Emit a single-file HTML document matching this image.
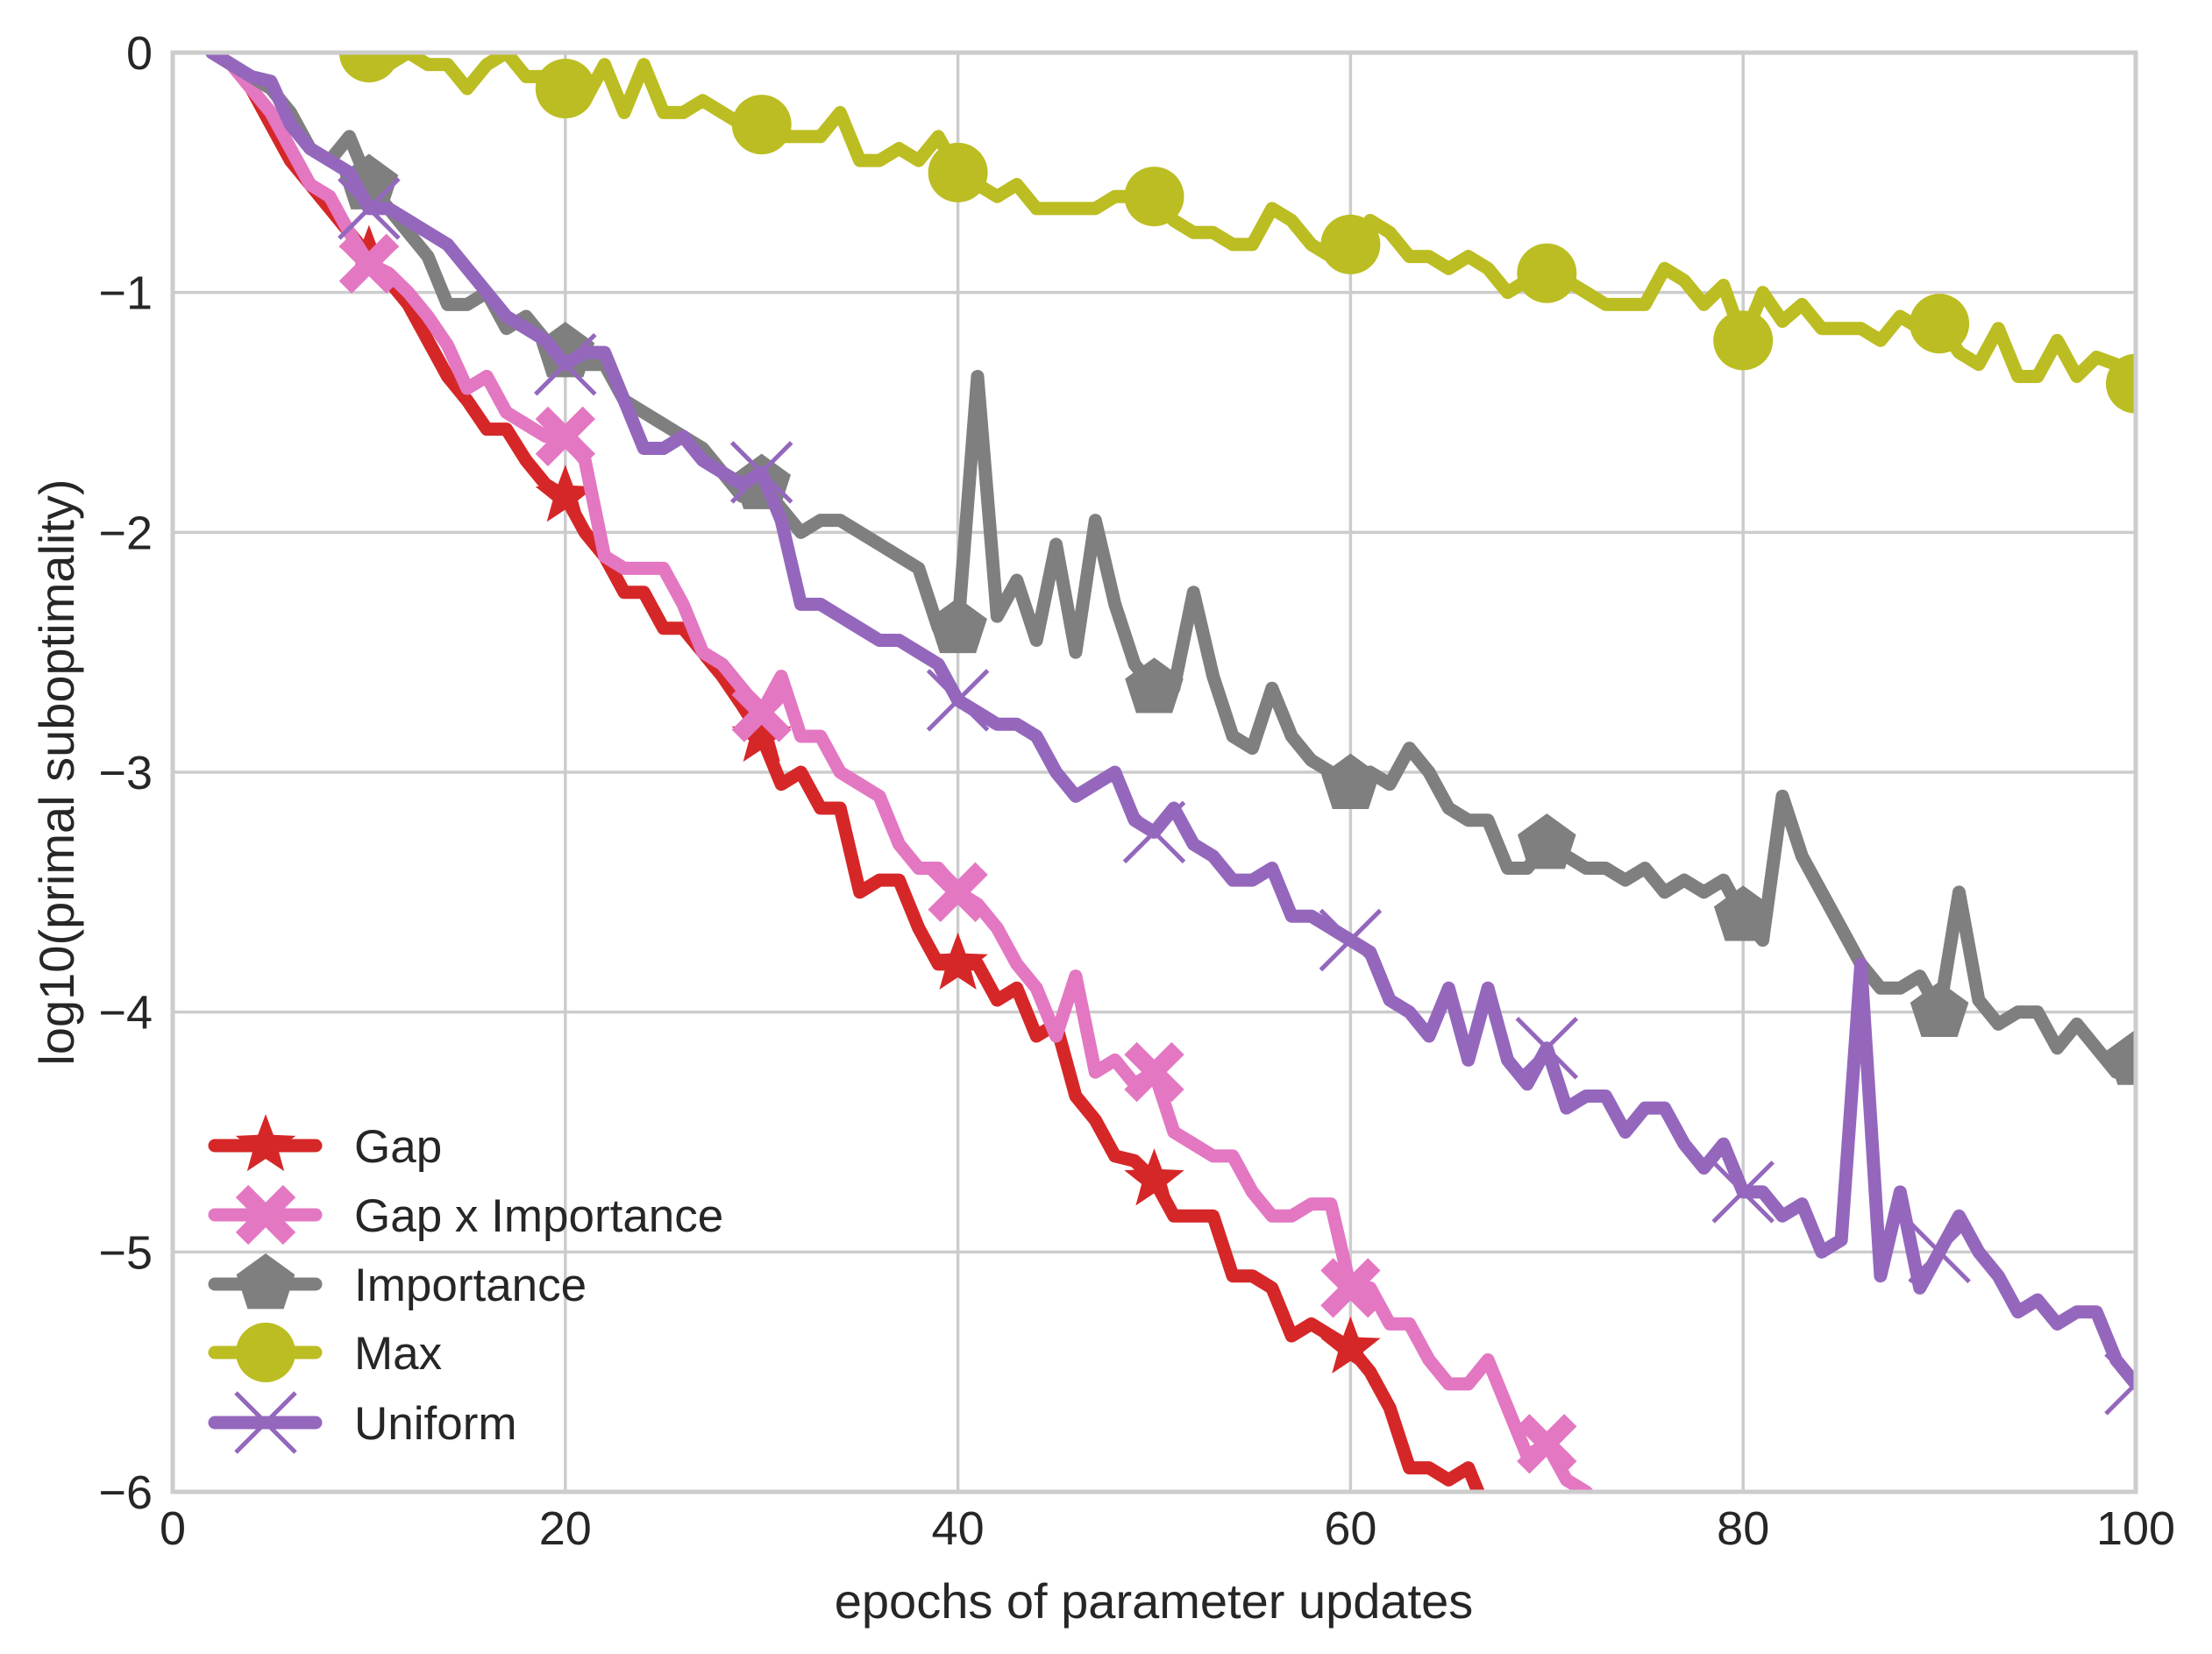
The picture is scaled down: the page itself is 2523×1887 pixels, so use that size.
<!DOCTYPE html>
<html><head><meta charset="utf-8"><style>
html,body{margin:0;padding:0;background:#fff}
svg{display:block}
text{font-family:"Liberation Sans",sans-serif;fill:#262626}
</style></head><body>
<svg id="chart" width="2523" height="1887" viewBox="0 0 2523 1887" xmlns="http://www.w3.org/2000/svg">
<defs><clipPath id="clip"><rect x="197" y="60" width="2239" height="1642"/></clipPath></defs>
<g id="grid"></g>
<g id="series" clip-path="url(#clip)"></g>
<rect x="197" y="60" width="2239" height="1642" fill="none" stroke="#cccccc" stroke-width="5"/>
<g id="ticks"></g>
<text x="1316" y="1846" font-size="56" text-anchor="middle">epochs of parameter updates</text>
<text transform="translate(84,881) rotate(-90)" font-size="56" text-anchor="middle">log10(primal suboptimality)</text>
<g id="legend"></g>
</svg>
<script>
const xTicks=[0,20,40,60,80,100];
const yTicks=[0,-1,-2,-3,-4,-5,-6];
const yTickLabels=["0","\u22121","\u22122","\u22123","\u22124","\u22125","\u22126"];
const gapX=[2,3,4,5,6,7,8,9,10,11,12,13,14,15,16,17,18,19,20,21,22,23,24,25,26,27,28,29,30,31,32,33,34,35,36,37,38,39,40,41,42,43,44,45,46,47,48,49,50,51,52,53,54,55,56,57,58,59,60,61,62,63,64,65,66,67,68];
const gapY=[0,-0.05,-0.15,-0.3,-0.45,-0.55,-0.65,-0.75,-0.85,-0.95,-1.05,-1.2,-1.35,-1.45,-1.57,-1.57,-1.7,-1.8,-1.85,-2.0,-2.1,-2.25,-2.25,-2.4,-2.4,-2.5,-2.6,-2.72,-2.85,-3.05,-3.0,-3.15,-3.15,-3.5,-3.45,-3.45,-3.65,-3.8,-3.8,-3.8,-3.95,-3.9,-4.1,-4.05,-4.35,-4.45,-4.6,-4.62,-4.7,-4.85,-4.85,-4.85,-5.1,-5.1,-5.15,-5.35,-5.3,-5.35,-5.4,-5.5,-5.65,-5.9,-5.9,-5.95,-5.9,-6.1,-6.2];
const gapIX=[2,3,4,5,6,7,8,9,10,11,12,13,14,15,16,17,18,19,20,21,22,23,24,25,26,27,28,29,30,31,32,33,34,35,36,37,38,39,40,41,42,43,44,45,46,47,48,49,50,51,52,53,54,55,56,57,58,59,60,61,62,63,64,65,66,67,68,69,70,71,72,73];
const gapIY=[0,-0.05,-0.15,-0.25,-0.4,-0.55,-0.6,-0.75,-0.88,-0.92,-1.0,-1.1,-1.22,-1.4,-1.35,-1.5,-1.55,-1.6,-1.6,-1.7,-2.1,-2.15,-2.15,-2.15,-2.3,-2.5,-2.55,-2.65,-2.75,-2.6,-2.85,-2.85,-3.0,-3.05,-3.1,-3.3,-3.4,-3.4,-3.5,-3.55,-3.65,-3.8,-3.9,-4.1,-3.85,-4.25,-4.2,-4.3,-4.25,-4.5,-4.55,-4.6,-4.6,-4.75,-4.85,-4.85,-4.8,-4.8,-5.15,-5.15,-5.3,-5.3,-5.45,-5.55,-5.55,-5.45,-5.65,-5.85,-5.8,-5.95,-6.0,-6.1];
const impX=[2,3,4,5,6,7,8,9,10,11,12,13,14,15,16,17,18,19,20,21,22,23,24,25,26,27,28,29,30,31,32,33,34,35,36,37,38,39,40,41,42,43,44,45,46,47,48,49,50,51,52,53,54,55,56,57,58,59,60,61,62,63,64,65,66,67,68,69,70,71,72,73,74,75,76,77,78,79,80,81,82,83,84,85,86,87,88,89,90,91,92,93,94,95,96,97,98,99,100];
const impY=[0,-0.05,-0.1,-0.15,-0.25,-0.4,-0.45,-0.35,-0.55,-0.65,-0.75,-0.85,-1.05,-1.05,-1.0,-1.15,-1.1,-1.2,-1.25,-1.3,-1.3,-1.45,-1.5,-1.55,-1.6,-1.65,-1.75,-1.85,-1.8,-1.9,-2.0,-1.95,-1.95,-2.0,-2.05,-2.1,-2.15,-2.4,-2.4,-1.35,-2.35,-2.2,-2.45,-2.05,-2.5,-1.95,-2.3,-2.55,-2.65,-2.65,-2.25,-2.6,-2.85,-2.9,-2.65,-2.85,-2.95,-3.0,-3.05,-3.0,-3.05,-2.9,-3.0,-3.15,-3.2,-3.2,-3.4,-3.4,-3.3,-3.35,-3.4,-3.4,-3.45,-3.4,-3.5,-3.45,-3.5,-3.45,-3.6,-3.7,-3.1,-3.35,-3.5,-3.65,-3.8,-3.9,-3.9,-3.85,-4.0,-3.5,-3.95,-4.05,-4.0,-4.0,-4.15,-4.05,-4.15,-4.25,-4.2];
const maxX=[8,9,10,11,12,13,14,15,16,17,18,19,20,21,22,23,24,25,26,27,28,29,30,31,32,33,34,35,36,37,38,39,40,41,42,43,44,45,46,47,48,49,50,51,52,53,54,55,56,57,58,59,60,61,62,63,64,65,66,67,68,69,70,71,72,73,74,75,76,77,78,79,80,81,82,83,84,85,86,87,88,89,90,91,92,93,94,95,96,97,98,99,100];
const maxY=[0.05,0.02,0.0,-0.05,0.0,-0.05,-0.05,-0.15,-0.05,0.0,-0.1,-0.1,-0.15,-0.2,-0.05,-0.25,-0.05,-0.25,-0.25,-0.2,-0.25,-0.3,-0.3,-0.35,-0.35,-0.35,-0.25,-0.45,-0.45,-0.4,-0.45,-0.35,-0.5,-0.55,-0.6,-0.55,-0.65,-0.65,-0.65,-0.65,-0.6,-0.6,-0.6,-0.7,-0.75,-0.75,-0.8,-0.8,-0.65,-0.7,-0.8,-0.85,-0.8,-0.7,-0.75,-0.85,-0.85,-0.9,-0.85,-0.9,-1.0,-0.95,-0.92,-0.95,-1.0,-1.05,-1.05,-1.05,-0.9,-0.95,-1.05,-0.97,-1.2,-1.0,-1.12,-1.05,-1.15,-1.15,-1.15,-1.2,-1.1,-1.15,-1.13,-1.25,-1.3,-1.15,-1.35,-1.35,-1.2,-1.35,-1.27,-1.3,-1.38];
const uniX=[2,3,4,5,6,7,8,9,10,11,12,13,14,15,16,17,18,19,20,21,22,23,24,25,26,27,28,29,30,31,32,33,34,35,36,37,38,39,40,41,42,43,44,45,46,47,48,49,50,51,52,53,54,55,56,57,58,59,60,61,62,63,64,65,66,67,68,69,70,71,72,73,74,75,76,77,78,79,80,81,82,83,84,85,86,87,88,89,90,91,92,93,94,95,96,97,98,99,100];
const uniY=[0,-0.05,-0.1,-0.12,-0.3,-0.4,-0.45,-0.5,-0.65,-0.65,-0.7,-0.75,-0.8,-0.9,-1.0,-1.1,-1.15,-1.2,-1.3,-1.25,-1.25,-1.45,-1.65,-1.65,-1.6,-1.7,-1.75,-1.8,-1.75,-1.95,-2.3,-2.3,-2.35,-2.4,-2.45,-2.45,-2.5,-2.55,-2.7,-2.75,-2.8,-2.8,-2.85,-3.0,-3.1,-3.05,-3.0,-3.2,-3.25,-3.15,-3.3,-3.35,-3.45,-3.45,-3.4,-3.6,-3.6,-3.65,-3.7,-3.75,-3.95,-4.0,-4.1,-3.9,-4.2,-3.9,-4.2,-4.3,-4.15,-4.4,-4.35,-4.35,-4.5,-4.4,-4.4,-4.55,-4.65,-4.55,-4.75,-4.75,-4.85,-4.8,-5.0,-4.95,-3.8,-5.1,-4.75,-5.15,-5.0,-4.85,-5.0,-5.1,-5.25,-5.2,-5.3,-5.25,-5.25,-5.45,-5.55];
const markEvery=[10,20,30,40,50,60,70,80,90,100];
const seriesNames=["Gap","Gap x Importance","Importance","Max","Uniform"];

const NS="http://www.w3.org/2000/svg";
const X0=197,X1=2436,Y0=60,Y1=1702;
const xs=v=>X0+(v-0)/(100-0)*(X1-X0);
const ys=v=>Y0+(0-v)/(0-(-6))*(Y1-Y0);
function mk(tag,attrs,parent){const e=document.createElementNS(NS,tag);for(const k in attrs)e.setAttribute(k,attrs[k]);parent.appendChild(e);return e;}
const grid=document.getElementById('grid'),ticks=document.getElementById('ticks'),ser=document.getElementById('series'),leg=document.getElementById('legend');
xTicks.forEach(t=>{
 const l=mk('line',{x1:xs(t),x2:xs(t),y1:Y0,y2:Y1,stroke:'#cccccc','stroke-width':3.5},grid);
 
 
 const tx=mk('text',{x:xs(t),y:1762,'font-size':54,'text-anchor':'middle'},ticks);tx.textContent=String(t);
 
 
});
yTicks.forEach((t,i)=>{
 const l=mk('line',{x1:X0,x2:X1,y1:ys(t),y2:ys(t),stroke:'#cccccc','stroke-width':3.5},grid);
 
 
 const tx=mk('text',{x:174,y:ys(t)+19,'font-size':54,'text-anchor':'end'},ticks);tx.textContent=yTickLabels[i];
 
 
});
function star(cx,cy,r,col,p){let d='';for(let i=0;i<10;i++){const a=-Math.PI/2+i*Math.PI/5;const rr=i%2?r*0.42:r;d+=(i?'L':'M')+(cx+rr*Math.cos(a))+' '+(cy+rr*Math.sin(a));}return mk('path',{d:d+'Z',fill:col},p);}
function pent(cx,cy,r,col,p){let d='';for(let i=0;i<5;i++){const a=-Math.PI/2+i*2*Math.PI/5;d+=(i?'L':'M')+(cx+r*Math.cos(a))+' '+(cy+r*Math.sin(a));}return mk('path',{d:d+'Z',fill:col},p);}
function thickX(cx,cy,r,col,p){const g=mk('g',{},p);[[1,1],[1,-1]].forEach(([a,b])=>mk('line',{x1:cx-r*a,y1:cy-r*b,x2:cx+r*a,y2:cy+r*b,stroke:col,'stroke-width':r*0.75},g));return g;}
function thinX(cx,cy,r,col,p){const g=mk('g',{},p);[[1,1],[1,-1]].forEach(([a,b])=>mk('line',{x1:cx-r*a,y1:cy-r*b,x2:cx+r*a,y2:cy+r*b,stroke:col,'stroke-width':5},g));return g;}
function circ(cx,cy,r,col,p){return mk('circle',{cx:cx,cy:cy,r:r,fill:col},p);}
const defs=[
 {name:'gap',X:gapX,Y:gapY,col:'#d62728',m:(x,y,p)=>star(x,y,36,'#d62728',p)},
 {name:'gap-x-importance',X:gapIX,Y:gapIY,col:'#e377c2',m:(x,y,p)=>thickX(x,y,27,'#e377c2',p)},
 {name:'importance',X:impX,Y:impY,col:'#7f7f7f',m:(x,y,p)=>pent(x,y,35,'#7f7f7f',p)},
 {name:'max',X:maxX,Y:maxY,col:'#bcbd22',m:(x,y,p)=>circ(x,y,34,'#bcbd22',p)},
 {name:'uniform',X:uniX,Y:uniY,col:'#9467bd',m:(x,y,p)=>thinX(x,y,34,'#9467bd',p)}
];
defs.forEach(s=>{
 const g=mk('g',{},ser);
 
 
 const pts=s.X.map((x,i)=>xs(x)+','+ys(s.Y[i])).join(' ');
 const pl=mk('polyline',{points:pts,fill:'none',stroke:s.col,'stroke-width':15,'stroke-linejoin':'round','stroke-linecap':'round'},g);
 
 
 s.X.forEach((x,i)=>{if(markEvery.includes(x)){const m=s.m(xs(x),ys(s.Y[i]),g);
  
  }});
});
const legY=[1307,1386,1465,1543,1623];
defs.forEach((s,i)=>{
 const g=mk('g',{},leg);
 
 
 mk('line',{x1:245,x2:360,y1:legY[i],y2:legY[i],stroke:s.col,'stroke-width':15,'stroke-linecap':'round'},g);
 s.m(303,legY[i],g);
 const t=mk('text',{x:404,y:legY[i]+19,'font-size':53},g);t.textContent=seriesNames[i];
});
</script>
</body></html>
